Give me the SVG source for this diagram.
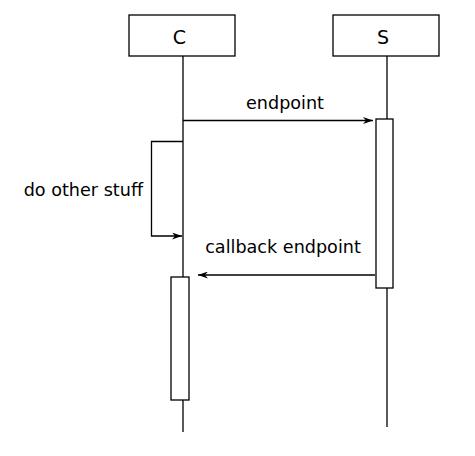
<svg xmlns="http://www.w3.org/2000/svg" width="475" height="456" viewBox="0 0 475 456">
<defs>
<style>
.box{fill:#fff;stroke:#000;stroke-width:1.3}
.ln{fill:none;stroke:#000;stroke-width:1.3}
.t{font-family:"DejaVu Sans",sans-serif;font-size:17.6px;fill:#000}
.h{font-family:"DejaVu Sans",sans-serif;font-size:19px;fill:#000;text-anchor:middle}
</style>
<marker id="ah" viewBox="0 0 10 7" refX="10" refY="3.5" markerWidth="10" markerHeight="7" markerUnits="userSpaceOnUse" orient="auto">
<path d="M0,0 L10,3.5 L0,7 L3,3.5 Z" fill="#000"/>
</marker>
</defs>
<rect width="475" height="456" fill="#fff"/>
<g id="lifelines">
<line class="ln" x1="183" y1="56" x2="183" y2="432"/>
<line class="ln" x1="387" y1="56" x2="387" y2="427"/>
</g>
<g id="node-C">
<rect class="box" x="129" y="15" width="106" height="41"/>
<text class="h" x="179.5" y="43.5">C</text>
</g>
<g id="node-S">
<rect class="box" x="333" y="15" width="106" height="41"/>
<text class="h" x="383" y="43.5">S</text>
</g>
<g id="act-S">
<rect class="box" x="376" y="119" width="17" height="169"/>
</g>
<g id="act-C">
<rect class="box" x="171" y="277" width="18" height="123"/>
</g>
<g id="connectors">
<line class="ln" x1="183" y1="120.5" x2="373" y2="120.5" marker-end="url(#ah)"/>
<polyline class="ln" points="183,141.5 151.5,141.5 151.5,236 182,236" marker-end="url(#ah)"/>
<line class="ln" x1="375" y1="275" x2="198" y2="275" marker-end="url(#ah)"/>
</g>
<g id="labels">
<text class="t" x="285" y="109" text-anchor="middle">endpoint</text>
<text class="t" x="143" y="196" text-anchor="end">do other stuff</text>
<text class="t" x="283" y="253" text-anchor="middle">callback endpoint</text>
</g>
</svg>
